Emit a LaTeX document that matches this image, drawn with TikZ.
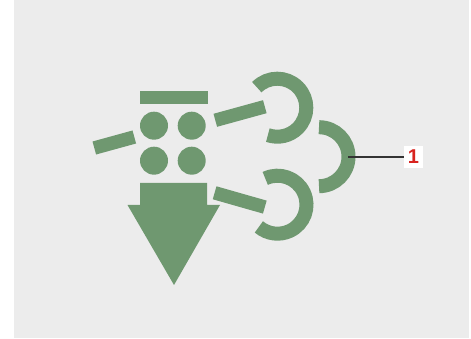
\documentclass[tikz,border=0pt]{standalone}
\usepackage{fontspec}
\setmainfont{Liberation Sans}
\usepackage{xcolor}
\usetikzlibrary{calc, positioning}
\definecolor{khungnen}{HTML}{ECECEC}
\definecolor{xanhla}{HTML}{6F9870}
\definecolor{dochu}{HTML}{D8231F}
\tikzset{
    vach/.style={draw=xanhla, line width=13.5pt},
    cung/.style={draw=xanhla, line width=14pt},
    nhan/.style={fill=white, text=dochu, inner sep=0pt, minimum width=19.6pt, minimum height=22pt,
        font=\fontsize{20}{20}\selectfont\bfseries}
}
\begin{document}
\begin{tikzpicture}[x=1pt, y=1pt]
    \useasboundingbox (0,0) rectangle (471,339);
    % 1. Nền xám
    \fill[khungnen] (14,1) rectangle (468.5,339);

    % 2. Thanh ngang, bốn chấm tròn và mũi tên lớn
    \fill[xanhla] (140,234.5) rectangle (208,248);
    \foreach \x in {154,191.7}
        \foreach \y in {213.3,178.3}
            \fill[xanhla] (\x,\y) circle (14);
    \fill[xanhla] (140,156) -- (207,156) -- (207,134) -- (220,134) -- (174,54)
        -- (127.5,134) -- (140,134) -- cycle;

    % 3. Ba vạch nghiêng
    \draw[vach] (94.3,191) -- (134.3,202);
    \draw[vach] (215.3,218.7) -- (264.8,232.3);
    \draw[vach] (214.6,146.2) -- (264.8,131.9);

    % 4. Ba cung tròn
    \draw[cung] (277.3,231.3) ++(135:29) arc[start angle=135, end angle=-109, radius=29];
    \draw[cung] (277.5,134.3) ++(115:29) arc[start angle=115, end angle=-130, radius=29];
    \draw[cung] (319,182.3) ++(90:29.5) arc[start angle=90, end angle=-90, radius=29.5];

    % 5. Đường dẫn và nhãn
    \node[nhan] (so1) at (413.5,182) {1};
    \coordinate (dau) at (348,182);
    \draw[black!80, line width=1.2pt] (dau) -- (so1);
\end{tikzpicture}
\end{document}
